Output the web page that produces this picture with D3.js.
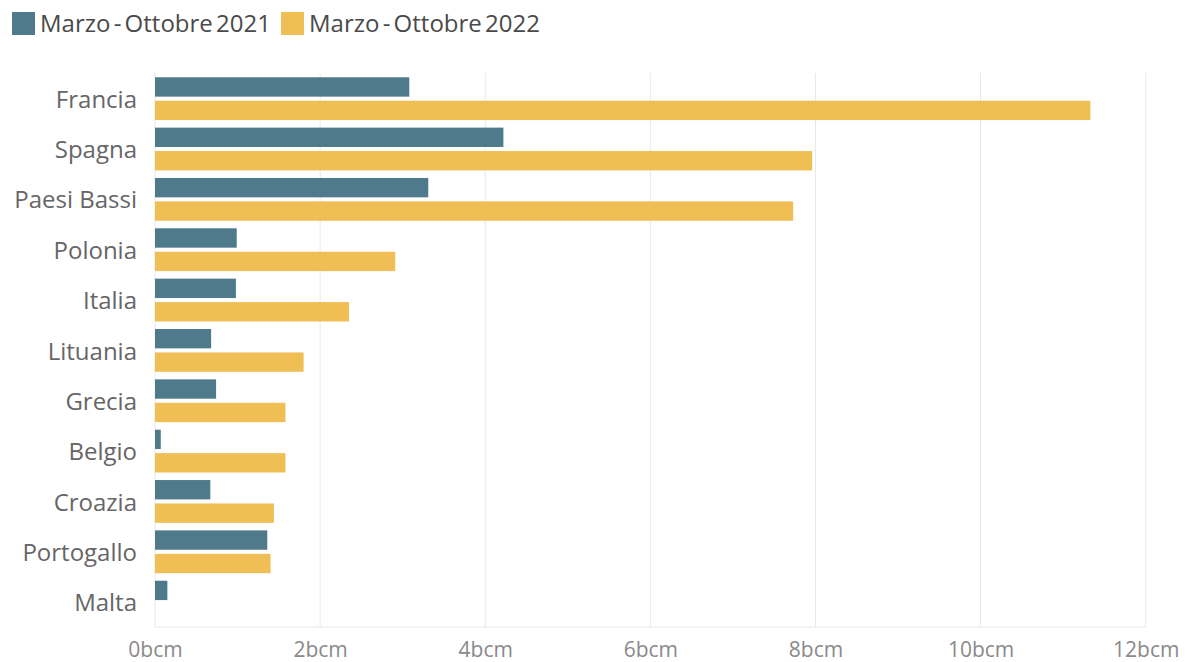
<!DOCTYPE html>
<html>
<head>
<meta charset="utf-8">
<script src="https://cdn.jsdelivr.net/npm/d3@7"></script>
<style>
  html, body { margin: 0; padding: 0; background: #ffffff; }
  svg { display: block; font-family: "Open Sans", "Noto Sans", sans-serif; }
</style>
</head>
<body>
<svg id="chart" width="1189" height="662"></svg>
<script>
// Imports of LNG by country, bcm
const countries = ["Francia", "Spagna", "Paesi Bassi", "Polonia", "Italia", "Lituania",
                   "Grecia", "Belgio", "Croazia", "Portogallo", "Malta"];
const seriesNames = ["Marzo - Ottobre 2021", "Marzo - Ottobre 2022"];
const values2021 = [3.08, 4.22, 3.31, 0.99, 0.98, 0.68, 0.74, 0.07, 0.67, 1.36, 0.15];
const values2022 = [11.33, 7.96, 7.73, 2.91, 2.35, 1.80, 1.58, 1.58, 1.44, 1.40, 0];
const tickValues = [0, 2, 4, 6, 8, 10, 12];
const colors = ["#4f7a8c", "#efbe55"];

const svg = d3.select("#chart");

const x = d3.scaleLinear().domain([0, 12]).range([155, 1145.7]);
const y0 = d3.scaleBand().domain(countries).range([73.5, 627.3])
  .paddingInner(0.15).paddingOuter(0.075);
const y1 = d3.scaleBand().domain(seriesNames).range([0, y0.bandwidth()])
  .paddingInner(0.174);

const gridTop = 73, gridBottom = 627;

// vertical gridlines
svg.append("g").selectAll("line").data(tickValues).join("line")
  .attr("x1", d => x(d)).attr("x2", d => x(d))
  .attr("y1", gridTop).attr("y2", gridBottom)
  .attr("stroke", "#e8e8e8").attr("stroke-width", 1);

// bottom baseline
svg.append("line")
  .attr("x1", x(0)).attr("x2", x(12))
  .attr("y1", gridBottom).attr("y2", gridBottom)
  .attr("stroke", "#e8e8e8");

// x axis tick labels
const xAxis = d3.axisBottom(x).tickValues(tickValues)
  .tickFormat(d => d + "bcm").tickSize(0).tickPadding(0);
const gx = svg.append("g").attr("transform", `translate(0, ${gridBottom})`).call(xAxis);
gx.select(".domain").remove();
gx.selectAll("text")
  .attr("y", 30)
  .attr("dy", 0)
  .attr("fill", "#8a8a8a")
  .style("font-family", "'Open Sans', 'Noto Sans', sans-serif")
  .style("font-size", "21px");

// y axis category labels
const yAxis = d3.axisLeft(y0).tickSize(0).tickPadding(0);
const gy = svg.append("g").attr("transform", "translate(137, 0)").call(yAxis);
gy.select(".domain").remove();
gy.selectAll("text")
  .attr("dy", "0.38em")
  .attr("fill", "#666666")
  .style("font-family", "'Open Sans', 'Noto Sans', sans-serif")
  .style("font-size", "24px");

// bars
const rows = countries.map((c, i) => ({ country: c, vals: [values2021[i], values2022[i]] }));
const groups = svg.append("g").selectAll("g").data(rows).join("g")
  .attr("transform", d => `translate(0, ${y0(d.country)})`);
groups.selectAll("rect")
  .data(d => d.vals.map((v, j) => ({ series: seriesNames[j], value: v, j })))
  .join("rect")
  .attr("x", x(0))
  .attr("y", d => y1(d.series))
  .attr("width", d => x(d.value) - x(0))
  .attr("height", y1.bandwidth())
  .attr("fill", d => colors[d.j]);

// legend
const legend = svg.append("g");
const legendItems = [
  { name: seriesNames[0], color: colors[0], x: 12 },
  { name: seriesNames[1], color: colors[1], x: 281 }
];
legendItems.forEach(item => {
  legend.append("rect")
    .attr("x", item.x).attr("y", 12)
    .attr("width", 23).attr("height", 23)
    .attr("fill", item.color);
  legend.append("text")
    .attr("x", item.x + 28).attr("y", 32)
    .attr("fill", "#4a4a4a")
    .style("font-size", "24px")
    .style("word-spacing", "-3px")
    .text(item.name);
});
</script>
</body>
</html>
